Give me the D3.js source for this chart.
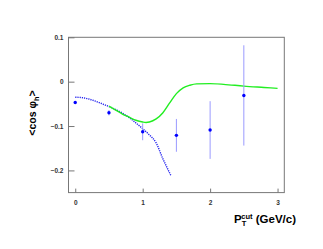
<!DOCTYPE html>
<html><head><meta charset="utf-8">
<script src="https://cdn.jsdelivr.net/npm/d3@7"></script>
<style>body{margin:0;background:#fff}svg{display:block}text{font-family:"Liberation Sans",Arial,sans-serif}</style>
</head><body>
<script>
const ptCut = [0, 0.5, 1.0, 1.5, 2.0, 2.5];
const cosPhi = [-0.047, -0.070, -0.113, -0.121, -0.109, -0.031];
const cosErr = [0.003, 0.006, 0.019, 0.037, 0.065, 0.113];

const greenX = [0.5,0.6,0.7,0.8,0.9,1.0,1.05,1.1,1.2,1.3,1.4,1.5,1.6,1.7,1.8,2.0,2.2,2.5,2.8,3.0];
const greenY = [-0.055,-0.064,-0.073,-0.080,-0.087,-0.091,-0.092,-0.091,-0.084,-0.070,-0.048,-0.027,-0.014,-0.008,-0.005,-0.0045,-0.006,-0.010,-0.013,-0.015];

const blueX = [0,0.1,0.2,0.3,0.4,0.5,0.6,0.7,0.8,0.9,1.0,1.1,1.2,1.3,1.35,1.42];
const blueY = [-0.035,-0.036,-0.039,-0.044,-0.050,-0.056,-0.063,-0.071,-0.081,-0.093,-0.106,-0.120,-0.138,-0.174,-0.190,-0.212];

const xTicks = [0,1,2,3];
const yTicks = [0.1,0,-0.1,-0.2];

const W=323,H=249;
const svg=d3.select("body").append("svg").attr("width",W).attr("height",H);
const x=d3.scaleLinear().domain([-0.1,3.1]).range([68.5,284.3]);
const y=d3.scaleLinear().domain([-0.25,0.1]).range([192.6,37.3]);
const frame="#777";

svg.append("rect").attr("x",x.range()[0]).attr("y",y.range()[1])
  .attr("width",x.range()[1]-x.range()[0]).attr("height",y.range()[0]-y.range()[1])
  .attr("fill","none").attr("stroke",frame).attr("stroke-width",1);

const ya=svg.append("g").attr("transform",`translate(${x.range()[0]},0)`)
  .call(d3.axisRight(y).tickValues(yTicks).tickSize(6).tickFormat(d=>d===0?"0":d3.format(".1f")(d)));
ya.select(".domain").remove();
ya.selectAll("line").attr("stroke",frame);
ya.selectAll("text").attr("x",-5).attr("text-anchor","end").attr("font-size",6.5).attr("font-weight","bold").attr("fill","#333");

const xa=svg.append("g").attr("transform",`translate(0,${y.range()[0]})`)
  .call(d3.axisTop(x).tickValues(xTicks).tickSize(4).tickFormat(d3.format("d")));
xa.select(".domain").remove();
xa.selectAll("line").attr("stroke",frame);
xa.selectAll("text").attr("y",12).attr("dy","0").attr("font-size",6.5).attr("font-weight","bold").attr("fill","#333");

const line=d3.line().x(d=>x(d[0])).y(d=>y(d[1])).curve(d3.curveMonotoneX);
svg.append("path").datum(blueX.map((v,i)=>[v,blueY[i]])).attr("d",line)
  .attr("fill","none").attr("stroke","#2222ee").attr("stroke-width",1.4).attr("stroke-dasharray","1.2,1");
svg.append("path").datum(greenX.map((v,i)=>[v,greenY[i]])).attr("d",line)
  .attr("fill","none").attr("stroke","#22ee22").attr("stroke-width",1.4);

svg.selectAll(".err").data(ptCut).enter().append("line")
  .attr("x1",d=>x(d)).attr("x2",d=>x(d))
  .attr("y1",(d,i)=>y(cosPhi[i]-cosErr[i])).attr("y2",(d,i)=>y(cosPhi[i]+cosErr[i]))
  .attr("stroke","#9a9aff").attr("stroke-width",1);
svg.selectAll(".pt").data(ptCut).enter().append("circle")
  .attr("cx",d=>x(d)).attr("cy",(d,i)=>y(cosPhi[i])).attr("r",1.7).attr("fill","#0000ff");

const yt=svg.append("text").attr("transform","translate(36,113) rotate(-90)").attr("text-anchor","middle")
  .attr("font-size",10.5).attr("font-weight","bold").attr("fill","#000");
yt.append("tspan").text("<cos φ");
yt.append("tspan").attr("font-size",7.5).attr("dy",2.5).text("h");
yt.append("tspan").attr("dy",-2.5).text(">");

const xt=svg.append("text").attr("x",296).attr("y",223).attr("text-anchor","end")
  .attr("font-size",11.5).attr("font-weight","bold").attr("fill","#000");
xt.append("tspan").text("P");
xt.append("tspan").attr("font-size",7.5).attr("dy",3).text("T");
xt.append("tspan").attr("font-size",7.5).attr("dx",-4.4).attr("dy",-7.5).text("cut");
xt.append("tspan").attr("dy",4.5).text(" (GeV/c)");
</script>
</body></html>
